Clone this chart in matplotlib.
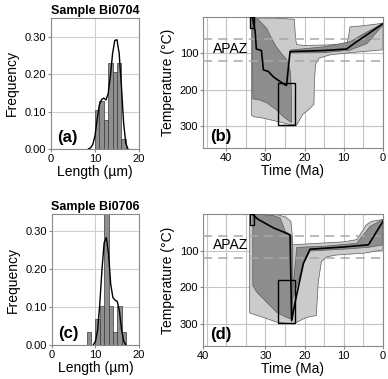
import matplotlib.pyplot as plt
import numpy as np
from matplotlib.patches import Polygon, Rectangle

plt.rcParams['font.family'] = ['Liberation Sans', 'DejaVu Sans']

# ---- track length histograms ----
bins_a = [10, 11, 12, 13, 14, 15, 16]
freq_a = [0.103, 0.128, 0.077, 0.231, 0.205, 0.231, 0.026]
kde_a_x = [8.5, 9, 9.5, 10, 10.5, 11, 11.5, 12, 12.5, 13, 13.5, 14, 14.5, 15, 15.5, 16, 16.5, 17, 17.5]
kde_a_y = [0, 0.003, 0.012, 0.035, 0.08, 0.118, 0.132, 0.136, 0.131, 0.148, 0.195, 0.255, 0.29, 0.292, 0.255, 0.17, 0.07, 0.015, 0]

bins_c = [8, 10, 11, 12, 13, 14, 15, 16]
freq_c = [0.034, 0.069, 0.103, 0.517, 0.103, 0.034, 0.103, 0.034]
kde_c_x = [9.5, 10, 10.5, 11, 11.5, 12, 12.5, 13, 13.5, 14, 14.5, 15, 15.5, 16, 16.5, 17]
kde_c_y = [0, 0.01, 0.04, 0.11, 0.2, 0.27, 0.283, 0.24, 0.16, 0.125, 0.118, 0.115, 0.09, 0.04, 0.01, 0]

# ---- t-T envelopes (time Ma, temperature C) ----
acc_b_t = [33.5, 28, 22.6, 22.3, 22.0, 20, 15, 9.2, 8.8, 8.4, 5, 0, 0, 5, 8.5, 13.5, 16.3, 17.2, 17.5, 17.6, 19, 20.5, 22, 24, 27, 30.5, 33, 33.5]
acc_b_T = [3, 3, 6, 60, 76, 78, 77, 75, 55, 27, 24, 17, 90, 95, 98, 104, 113, 130, 180, 240, 255, 268, 297, 295, 287, 278, 274, 270]
good_b_t = [33.3, 31.8, 29.6, 28.4, 27.2, 25.9, 24.5, 23.6, 23.3, 23.3, 23.9, 25.5, 27.2, 29.6, 31.5, 33.2]
good_b_T = [3, 7, 32, 59, 82, 100, 118, 150, 220, 290, 286, 273, 255, 236, 228, 225]
good_b2_t = [23.7, 15.2, 8.4, 4.1, 0, 0, 4.1, 8.4, 15.2, 23.7]
good_b2_T = [91, 82, 68, 41, 18, 22, 73, 91, 98, 99]
best_b_t = [33.2, 32.6, 32.3, 31.0, 30.5, 29.2, 28.0, 26.3, 25.0, 24.6, 23.7, 15, 9.3, 7, 4, 0]
best_b_T = [5, 40, 88, 92, 145, 150, 164, 177, 186, 188, 95, 92, 88, 70, 48, 18]

acc_d_t = [34, 28.5, 26.5, 25, 24, 23.5, 23.2, 23, 21.5, 20, 10, 6.7, 4.2, 2.9, 0, 0, 5, 12, 14.4, 15.7, 16.5, 17, 19.5, 22.9, 27.1, 30.5, 33.5, 34]
acc_d_T = [0, 0, 3, 8, 15, 20, 50, 84, 83, 82, 76, 70, 29, 20, 15, 98, 107, 112, 117, 130, 185, 277, 282, 300, 295, 282, 272, 270]
good_d_t = [33.2, 28, 26.2, 25, 24, 23.3, 23.0, 23.0, 24.6, 27.1, 29.7, 32.2, 33.2]
good_d_T = [0, 4, 11, 46, 55, 60, 100, 288, 282, 268, 240, 213, 195]
good_d2_t = [22, 15, 6.7, 3.3, 0, 0, 3.7, 10, 18.6, 20.3, 22, 23.3]
good_d2_T = [91, 88, 80, 34, 15, 84, 91, 96, 101, 135, 195, 241]
best_d_t = [33, 31.8, 30.1, 27.9, 25.4, 23.7, 23.3, 22.4, 20.3, 18.6, 10, 3.7, 0]
best_d_T = [4, 15, 25, 38, 49, 57, 291, 240, 135, 96, 90, 84, 20]

# constraint boxes: (oldest, youngest, top T, bottom T)
box_small = (33.8, 33.0, 0, 30)
box_big = (26.7, 22.5, 180, 298)
apaz = [60, 120]

LIGHT = '#cbcbcb'
DARK = '#8d8d8d'
EDGE = '#5a5a5a'

fig = plt.figure(figsize=(3.88, 3.79), dpi=100)
ax_a = fig.add_axes([0.1314, 0.6069, 0.2268, 0.3456])
ax_b = fig.add_axes([0.5232, 0.6095, 0.4639, 0.3456])
ax_c = fig.add_axes([0.1340, 0.0897, 0.2242, 0.3456])
ax_d = fig.add_axes([0.5232, 0.0871, 0.4639, 0.3483])


def style(ax):
    for s in ax.spines.values():
        s.set_color('#8a8a8a')
        s.set_linewidth(0.8)
    ax.tick_params(labelsize=8, length=2, color='#8a8a8a', pad=1.5)
    ax.tick_params(which='minor', length=0)
    ax.set_axisbelow(True)


def hist_panel(ax, left, freq, kx, ky, title, label, top):
    style(ax)
    ax.bar(left, freq, width=1.0, align='edge', color='#8f8f8f',
           edgecolor='#3a3a3a', linewidth=0.5, zorder=2)
    ax.plot(kx, ky, color='black', lw=1.0, zorder=3)
    ax.set_xlim(0, 20)
    ax.set_ylim(0, top)
    ax.set_xticks([0, 10, 20])
    ax.set_yticks([0, 0.1, 0.2, 0.3])
    ax.set_yticklabels(['0.00', '0.10', '0.20', '0.30'])
    ax.grid(True, color='#cfcfcf', lw=0.8)
    ax.set_xlabel('Length (\u00b5m)', fontsize=10, labelpad=1)
    ax.set_ylabel('Frequency', fontsize=10, labelpad=4)
    ax.set_title(title, fontsize=9, fontweight='bold', pad=3)
    ax.text(0.07, 0.03, label, transform=ax.transAxes, fontsize=12,
            fontweight='bold', ha='left', va='bottom', zorder=4)


def tt_panel(ax, acc, goods, best, label, apaz_y, xt, xtl):
    style(ax)
    ax.add_patch(Polygon(np.column_stack(acc), closed=True, facecolor=LIGHT,
                         edgecolor=EDGE, lw=0.5, zorder=2))
    for g in goods:
        ax.add_patch(Polygon(np.column_stack(g), closed=True, facecolor=DARK,
                             edgecolor=EDGE, lw=0.5, zorder=3))
    ax.plot(best[0], best[1], color='black', lw=1.2, zorder=5)
    for b in (box_small, box_big):
        ax.add_patch(Rectangle((b[1], b[2]), b[0] - b[1], b[3] - b[2],
                               fill=False, edgecolor='black', lw=1.0, zorder=6))
    for t in apaz:
        ax.axhline(t, color='#a8a8a8', lw=1.1, ls=(0, (6, 4)), zorder=4)
    ax.text(43.3, apaz_y, 'APAZ', fontsize=10, ha='left', va='center', zorder=7)
    ax.set_xlim(45.9, 0)
    ax.set_ylim(360, 0)
    ax.set_xticks(xt)
    ax.set_xticklabels(xtl)
    ax.set_xticks(np.arange(5, 46, 5), minor=True)
    ax.set_yticks([100, 200, 300])
    ax.grid(True, which='both', axis='x', color='#c4c4c4', lw=0.8)
    ax.grid(True, which='major', axis='y', color='#c4c4c4', lw=0.8)
    ax.set_xlabel('Time (Ma)', fontsize=10, labelpad=1)
    ax.set_ylabel('Temperature (\u00b0C)', fontsize=10, labelpad=3)
    ax.text(0.04, 0.03, label, transform=ax.transAxes, fontsize=12,
            fontweight='bold', ha='left', va='bottom', zorder=7)


hist_panel(ax_a, bins_a, freq_a, kde_a_x, kde_a_y, 'Sample Bi0704', '(a)', 0.35)
hist_panel(ax_c, bins_c, freq_c, kde_c_x, kde_c_y, 'Sample Bi0706', '(c)', 0.345)

tt_panel(ax_b, (acc_b_t, acc_b_T), [(good_b_t, good_b_T), (good_b2_t, good_b2_T)],
         (best_b_t, best_b_T), '(b)', 88, [40, 30, 20, 10, 0], ['40', '30', '20', '10', '0'])
tt_panel(ax_d, (acc_d_t, acc_d_T), [(good_d_t, good_d_T), (good_d2_t, good_d2_T)],
         (best_d_t, best_d_T), '(d)', 84, [45.9, 30, 20, 10, 0], ['40', '30', '20', '10', '0'])

fig.savefig('out.png', dpi=100)
